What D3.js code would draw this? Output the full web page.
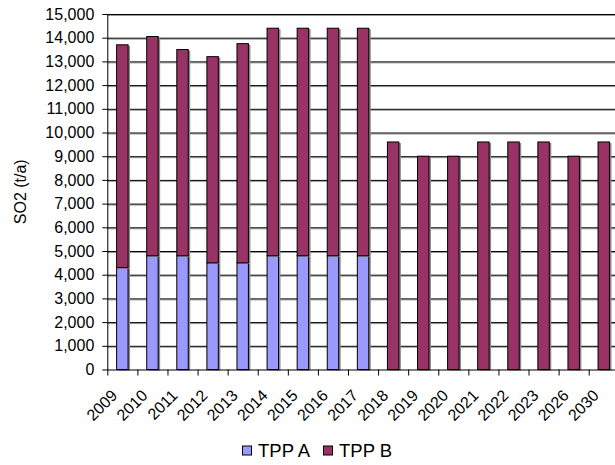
<!DOCTYPE html>
<html>
<head>
<meta charset="utf-8">
<script src="https://cdn.jsdelivr.net/npm/d3@7"></script>
<style>
	body { margin: 0; background: #fff; }
	svg { display: block; font-family: "Liberation Sans", Arial, sans-serif; }
</style>
</head>
<body>
<div id="chart"></div>
<script>
var years = ["2009", "2010", "2011", "2012", "2013", "2014", "2015", "2016", "2017",
	"2018", "2019", "2020", "2021", "2022", "2023", "2026", "2030"];
var tppA = [4300, 4800, 4800, 4500, 4500, 4800, 4800, 4800, 4800,
	0, 0, 0, 0, 0, 0, 0, 0];
var tppB = [9400, 9250, 8700, 8700, 9250, 9600, 9600, 9600, 9600,
	9600, 9000, 9000, 9600, 9600, 9600, 9000, 9600];
var seriesNames = ["TPP A", "TPP B"];
var seriesColors = ["#9999ff", "#993366"];
var yTicks = d3.range(0, 15001, 1000);

var WIDTH = 615, HEIGHT = 465;
var margin = { top: 14, left: 107.3 };
var plotHeight = 355.5;
var plotWidth = 511.5;   // runs past the right edge, as in the source

var svg = d3.select("#chart").append("svg")
	.attr("width", WIDTH).attr("height", HEIGHT);

var inner = svg.append("g")
	.attr("transform", `translate(${margin.left},${margin.top})`);

var x = d3.scaleBand().domain(years).range([0, plotWidth]);
var y = d3.scaleLinear().domain([0, 15000]).range([plotHeight, 0]);

var rows = years.map((yr, i) => ({ year: yr, "TPP A": tppA[i], "TPP B": tppB[i] }));
var stacked = d3.stack().keys(seriesNames)(rows);

// grid with soft shadow
inner.append("g").selectAll("line")
	.data(yTicks.slice(1))
	.enter().append("line")
	.attr("x1", 0).attr("x2", plotWidth)
	.attr("y1", d => y(d) + 1.5).attr("y2", d => y(d) + 1.5)
	.attr("stroke", "#9a9a9a").attr("stroke-width", 1);
inner.append("g").selectAll("line")
	.data(yTicks.slice(1))
	.enter().append("line")
	.attr("x1", 0).attr("x2", plotWidth)
	.attr("y1", d => y(d) + 0.5).attr("y2", d => y(d) + 0.5)
	.attr("stroke", "#000").attr("stroke-width", 1);

// bars
var barWidth = x.bandwidth() * 0.38;
var layers = inner.selectAll(".layer")
	.data(stacked)
	.enter().append("g")
	.attr("class", "layer");

layers.selectAll("rect.shadow")
	.data(d => d.filter(p => p[1] > p[0]))
	.enter().append("rect")
	.attr("class", "shadow")
	.attr("x", d => x(d.data.year) + (x.bandwidth() - barWidth) / 2 + 2)
	.attr("y", d => y(d[1]) + 1)
	.attr("width", barWidth)
	.attr("height", d => y(d[0]) - y(d[1]))
	.attr("fill", "#8a8a8a");

layers.selectAll("rect.bar")
	.data(d => d.filter(p => p[1] > p[0]).map(p => Object.assign(p, { key: d.key })))
	.enter().append("rect")
	.attr("class", "bar")
	.attr("x", d => x(d.data.year) + (x.bandwidth() - barWidth) / 2)
	.attr("y", d => y(d[1]))
	.attr("width", barWidth)
	.attr("height", d => y(d[0]) - y(d[1]))
	.attr("fill", d => seriesColors[seriesNames.indexOf(d.key)])
	.attr("stroke", "#000").attr("stroke-width", 1);

// y axis
var yAxis = inner.append("g")
	.call(d3.axisLeft(y).tickValues(yTicks).tickFormat(d3.format(",")).tickSize(5).tickSizeOuter(0));
yAxis.select(".domain").attr("stroke", "#000");
yAxis.selectAll("text").style("font-size", "16px").attr("fill", "#000").attr("x", -13);

// x axis, ticks between categories
var xAxisG = inner.append("g").attr("transform", `translate(0,${plotHeight})`);
xAxisG.append("line")
	.attr("x1", 0).attr("x2", plotWidth).attr("y1", 0.5).attr("y2", 0.5)
	.attr("stroke", "#000");
xAxisG.selectAll("line.tick")
	.data(years)
	.enter().append("line")
	.attr("class", "tick")
	.attr("x1", d => x(d) + 0.5).attr("x2", d => x(d) + 0.5)
	.attr("y1", 0).attr("y2", 6)
	.attr("stroke", "#000");
xAxisG.selectAll("text")
	.data(years)
	.enter().append("text")
	.attr("transform", d => `translate(${x(d) + x.bandwidth() / 2 - 12},${19}) rotate(-45)`)
	.attr("text-anchor", "end")
	.attr("dy", "0.71em")
	.style("font-size", "16px")
	.text(d => d);

// axis title
svg.append("text")
	.attr("transform", `translate(26,${margin.top + plotHeight / 2}) rotate(-90)`)
	.attr("text-anchor", "middle")
	.style("font-size", "16px")
	.text("SO2 (t/a)");

// legend
var legend = svg.append("g").attr("transform", "translate(242,445.5)");
var legendX = [0, 81];
seriesNames.forEach((name, i) => {
	var g = legend.append("g").attr("transform", `translate(${legendX[i]},0)`);
	g.append("rect")
		.attr("x", 0.5).attr("y", 0.5).attr("width", 9).attr("height", 9)
		.attr("fill", seriesColors[i]).attr("stroke", "#000");
	g.append("text")
		.attr("x", 16).attr("y", 5).attr("dy", "0.36em")
		.style("font-size", "18.5px")
		.text(name);
});
</script>
</body>
</html>
